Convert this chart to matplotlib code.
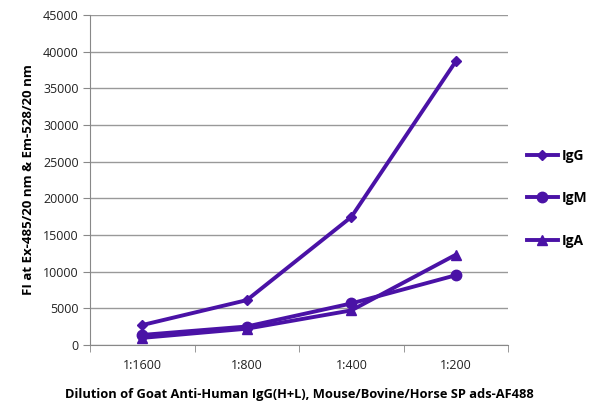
import matplotlib
matplotlib.use("Agg")
import matplotlib.pyplot as plt

categories = ["1:1600", "1:800", "1:400", "1:200"]
igg = [2700, 6100, 17450, 38700]
igm = [1350, 2500, 5650, 9500]
iga = [950, 2200, 4700, 12300]
yticks = list(range(0, 45001, 5000))

plt.rcParams['font.family'] = ['Open Sans', 'DejaVu Sans']
color = "#4a12a6"

fig = plt.figure(figsize=(6, 4.11), dpi=100)
ax = fig.add_axes([0.15, 0.161, 0.697, 0.8025])
x = list(range(len(categories)))
ax.plot(x, igg, color=color, lw=2.8, marker="D", ms=5.5, label="IgG")
ax.plot(x, igm, color=color, lw=2.8, marker="o", ms=7.5, label="IgM")
ax.plot(x, iga, color=color, lw=2.8, marker="^", ms=7.5, label="IgA")

ax.set_xlim(-0.5, len(categories) - 0.5)
ax.set_ylim(0, 45000)
ax.set_yticks(yticks)
ax.set_xticks(x)
ax.set_xticklabels(categories)
ax.set_xticks([i + 0.5 for i in range(-1, len(categories))], minor=True)
ax.tick_params(axis="x", which="major", length=0, pad=10, labelsize=9)
ax.tick_params(axis="x", which="minor", length=5, color="#888888")
ax.tick_params(axis="y", length=5, color="#888888", labelsize=9, pad=3)
for lbl in ax.get_xticklabels() + ax.get_yticklabels():
    lbl.set_color("#222222")
ax.grid(axis="y", color="#999999", lw=1)
ax.set_axisbelow(True)
for s in ["top", "right"]:
    ax.spines[s].set_visible(False)
ax.spines["left"].set_color("#888888")
ax.spines["bottom"].set_color("#888888")

ax.set_ylabel("FI at Ex-485/20 nm & Em-528/20 nm", fontsize=9.5, fontweight="bold", labelpad=6)
ax.set_xlabel("Dilution of Goat Anti-Human IgG(H+L), Mouse/Bovine/Horse SP ads-AF488",
              fontsize=9.3, fontweight="bold", labelpad=12)

leg = ax.legend(loc="center left", bbox_to_anchor=(1.015, 0.445), frameon=False,
                labelspacing=2.05, handlelength=2.2, handletextpad=0.3,
                prop={"weight": "bold", "size": 10})

fig.savefig("out.png", dpi=100)
